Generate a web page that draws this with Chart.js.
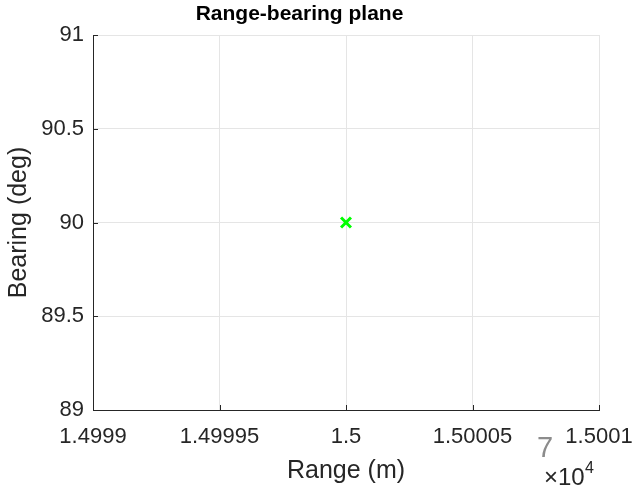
<!DOCTYPE html>
<html><head><meta charset="utf-8">
<script src="https://cdn.jsdelivr.net/npm/chart.js@4.4.0/dist/chart.umd.min.js"></script>
<style>html,body{margin:0;padding:0;background:#fff}#c{display:block}</style>
</head><body>
<canvas id="c" width="641" height="491"></canvas>
<script>
const rangeValues = [15000];
const bearingValues = [90];
const xTickValues = [14999, 14999.5, 15000, 15000.5, 15001];
const xTickLabels = ['1.4999', '1.49995', '1.5', '1.50005', '1.5001'];
const yTickValues = [89, 89.5, 90, 90.5, 91];
const yTickLabels = ['89', '89.5', '90', '90.5', '91'];
const FONT = '"Liberation Sans", Arial, sans-serif';

const innerTicks = {
  id: 'innerTicks',
  afterDraw(chart) {
    const {ctx, chartArea: a, scales: {x, y}} = chart;
    ctx.save();
    ctx.strokeStyle = '#262626';
    ctx.lineWidth = 1;
    ctx.beginPath();
    xTickValues.forEach(v => { const px = Math.round(x.getPixelForValue(v)) + 0.5; ctx.moveTo(px, a.bottom); ctx.lineTo(px, a.bottom - 5); });
    yTickValues.forEach(v => { const py = Math.round(y.getPixelForValue(v)) + 0.5; ctx.moveTo(a.left, py); ctx.lineTo(a.left + 5, py); });
    ctx.stroke();
    ctx.fillStyle = '#262626';
    ctx.textAlign = 'left';
    ctx.textBaseline = 'alphabetic';
    ctx.font = '24px ' + FONT;
    ctx.fillText('\u00d710', a.right - 55, a.bottom + 75);
    ctx.font = '16px ' + FONT;
    ctx.fillText('4', a.right - 14, a.bottom + 63);
    ctx.fillStyle = '#8c8c8c';
    ctx.font = '29px ' + FONT;
    ctx.fillText('7', a.right - 62, a.bottom + 47);
    ctx.restore();
  }
};

new Chart(document.getElementById('c'), {
  type: 'scatter',
  data: {
    datasets: [{
      data: rangeValues.map((r, i) => ({x: r, y: bearingValues[i]})),
      pointStyle: 'crossRot',
      pointRadius: 7,
      pointBorderWidth: 3,
      borderColor: '#00ff00',
      backgroundColor: '#00ff00'
    }]
  },
  options: {
    responsive: false,
    animation: false,
    devicePixelRatio: 1,
    layout: {padding: {left: 0, right: 42, top: 0, bottom: 0}},
    plugins: {
      legend: {display: false},
      tooltip: {enabled: false},
      title: {
        display: true,
        text: 'Range-bearing plane',
        color: '#000',
        font: {family: FONT, size: 21, weight: 'bold', lineHeight: 1.2},
        padding: {top: 2, bottom: 7.8}
      }
    },
    scales: {
      x: {
        type: 'linear',
        min: 14999, max: 15001,
        afterBuildTicks: s => { s.ticks = xTickValues.map(v => ({value: v})); },
        afterFit: s => { s.height = 81; s.paddingRight = 0; s.paddingLeft = 0; },
        ticks: {
          autoSkip: false, maxRotation: 0, color: '#262626', padding: 14,
          font: {family: FONT, size: 22},
          callback: (v, i) => xTickLabels[i]
        },
        grid: {color: '#e5e5e5', drawTicks: false},
        border: {color: '#262626', width: 1},
        title: {display: true, text: 'Range (m)', color: '#262626', font: {family: FONT, size: 25}, padding: {top: 0, bottom: 5}}
      },
      y: {
        type: 'linear',
        min: 89, max: 91,
        afterBuildTicks: s => { s.ticks = yTickValues.map(v => ({value: v})); },
        ticks: {
          color: '#262626', padding: 9,
          font: {family: FONT, size: 22},
          callback: (v, i) => yTickLabels[i]
        },
        afterFit: s => { s.width = 93; s.paddingTop = 0; s.paddingBottom = 0; },
        grid: {color: '#e5e5e5', drawTicks: false},
        border: {color: '#262626', width: 1},
        title: {display: true, text: 'Bearing (deg)', color: '#262626', font: {family: FONT, size: 25}, padding: {top: 4, bottom: 0}}
      }
    }
  },
  plugins: [innerTicks]
});
</script>
</body></html>
